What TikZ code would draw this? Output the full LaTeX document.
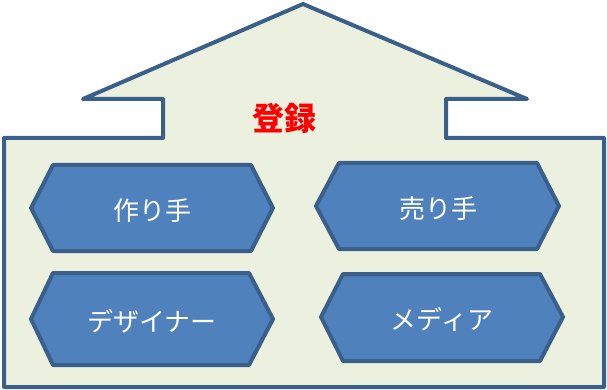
\documentclass[tikz,border=0pt]{standalone}
\usepackage{fontspec}
\newfontfamily\jpfont{Noto Sans CJK JP}
\definecolor{housefill}{HTML}{EBF1DE}
\definecolor{edge}{HTML}{3A5F8B}
\definecolor{hexfill}{HTML}{4F81BD}
\begin{document}
\begin{tikzpicture}[x=1pt,y=-1pt,
  housestyle/.style={draw=edge,fill=housefill,line width=4pt,line join=round},
  hexstyle/.style={draw=edge,fill=hexfill,line width=4pt,line join=round},
  hextext/.style={text=white,font=\jpfont\fontsize{26}{28}\selectfont,inner sep=0pt},
  titletext/.style={text=red,font=\jpfont\bfseries\fontsize{32}{34}\selectfont,inner sep=0pt}]
\useasboundingbox (0,0) rectangle (607,390);
% house outline
\draw[housestyle] (303,4) -- (527,99) -- (446,99) -- (446,138) -- (604,138) -- (604,387)
  -- (4,387) -- (4,138) -- (163,138) -- (163,99) -- (83,99) -- cycle;
\node[titletext] (title) at (284,118) {登録};
% hexagons
\draw[hexstyle] (31,208) -- (53,165) -- (251,165) -- (273,208) -- (251,251) -- (53,251) -- cycle;
\node[hextext] (maker) at (152,211) {作り手};
\draw[hexstyle] (316,206) -- (339,163) -- (537,163) -- (559,206) -- (537,249) -- (339,249) -- cycle;
\node[hextext] (seller) at (438,209) {売り手};
\draw[hexstyle] (31,319) -- (53,273) -- (249,273) -- (273,319) -- (249,365) -- (53,365) -- cycle;
\node[hextext] (designer) at (152,321) {デザイナー};
\draw[hexstyle] (321,317) -- (343,274) -- (540,274) -- (563,317) -- (540,361) -- (343,361) -- cycle;
\node[hextext] (media) at (442,319) {メディア};
\end{tikzpicture}
\end{document}
